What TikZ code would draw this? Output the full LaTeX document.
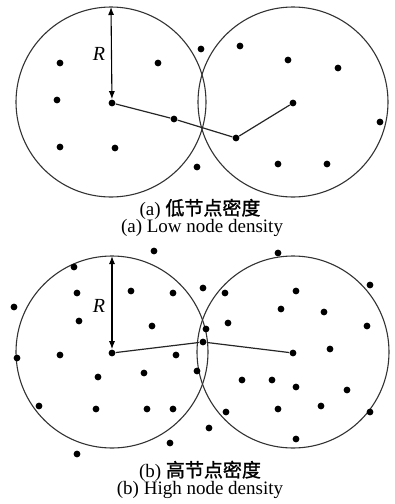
\documentclass[tikz,border=0pt]{standalone}
\usepackage{fontspec}
\setmainfont{Liberation Serif}
\newfontfamily\cjk{Noto Sans CJK SC}[FakeBold=1.2]
\usetikzlibrary{arrows.meta}

\tikzset{
  sensor/.style={circle, fill=black, inner sep=0pt, minimum size=3.4pt},
  rangecircle/.style={draw=black!80, line width=0.55pt},
  link/.style={draw=black!85, line width=0.6pt},
  radius arrow/.style={line width=0.55pt, {Latex[length=4pt,width=3pt]}-{Latex[length=4pt,width=3pt]}},
  caption/.style={anchor=base, inner sep=0pt, font=\fontsize{9.5}{11}\selectfont}
}

\begin{document}
\begin{tikzpicture}[x=0.5pt, y=-0.5pt]
  \useasboundingbox (0,0) rectangle (395,504);

  % (a) low node density
  \draw[rangecircle] (111,102) circle[radius=95];
  \draw[rangecircle] (293,102) circle[radius=95];
  \coordinate (topA) at (111,7);
  \node[sensor] (cA) at (112,103) {};
  \node[sensor] (hopA1) at (174,119) {};
  \node[sensor] (hopA2) at (236,138) {};
  \node[sensor] (cB) at (293,103) {};
  \node[sensor] (a1) at (60,63) {};
  \node[sensor] (a2) at (158,63) {};
  \node[sensor] (a3) at (57,100) {};
  \node[sensor] (a4) at (60,147) {};
  \node[sensor] (a5) at (115,148) {};
  \node[sensor] (a6) at (197,167) {};
  \node[sensor] (a7) at (201,49) {};
  \node[sensor] (a8) at (240,46) {};
  \node[sensor] (a9) at (288,60) {};
  \node[sensor] (a10) at (338,68) {};
  \node[sensor] (a11) at (380,122) {};
  \node[sensor] (a12) at (278,164) {};
  \node[sensor] (a13) at (327,164) {};
  \draw[radius arrow] (topA) -- (cA);
  \node[font=\fontsize{10}{11}\selectfont\itshape] (RA) at (99,54) {R};
  \draw[link] (cA) -- (hopA1);
  \draw[link] (hopA1) -- (hopA2);
  \draw[link] (hopA2) -- (cB);
  \node[caption] (capA1) at (200,215) {(a) {\cjk 低节点密度}};
  \node[caption] (capA2) at (202,232) {(a) Low node density};

  % (b) high node density
  \draw[rangecircle] (112,352) circle[radius=96];
  \draw[rangecircle] (293,352) circle[radius=96];
  \coordinate (topC) at (112,256);
  \node[sensor] (cC) at (112,353) {};
  \node[sensor] (hopC) at (203,342) {};
  \node[sensor] (cD) at (293,353) {};
  \node[sensor] (b1) at (154,251) {};
  \node[sensor] (b2) at (74,267) {};
  \node[sensor] (b3) at (14,307) {};
  \node[sensor] (b4) at (77,293) {};
  \node[sensor] (b5) at (131,291) {};
  \node[sensor] (b6) at (173,293) {};
  \node[sensor] (b7) at (79,321) {};
  \node[sensor] (b8) at (152,326) {};
  \node[sensor] (b9) at (17,358) {};
  \node[sensor] (b10) at (60,355) {};
  \node[sensor] (b11) at (176,355) {};
  \node[sensor] (b12) at (197,371) {};
  \node[sensor] (b13) at (98,377) {};
  \node[sensor] (b14) at (144,373) {};
  \node[sensor] (b15) at (39,406) {};
  \node[sensor] (b16) at (96,409) {};
  \node[sensor] (b17) at (147,409) {};
  \node[sensor] (b18) at (173,409) {};
  \node[sensor] (b19) at (170,443) {};
  \node[sensor] (b20) at (77,454) {};
  \node[sensor] (b21) at (278,253) {};
  \node[sensor] (b22) at (203,288) {};
  \node[sensor] (b23) at (225,293) {};
  \node[sensor] (b24) at (296,291) {};
  \node[sensor] (b25) at (370,285) {};
  \node[sensor] (b26) at (281,309) {};
  \node[sensor] (b27) at (324,312) {};
  \node[sensor] (b28) at (367,326) {};
  \node[sensor] (b29) at (228,323) {};
  \node[sensor] (b30) at (206,329) {};
  \node[sensor] (b31) at (330,349) {};
  \node[sensor] (b32) at (242,380) {};
  \node[sensor] (b33) at (272,380) {};
  \node[sensor] (b34) at (296,387) {};
  \node[sensor] (b35) at (347,390) {};
  \node[sensor] (b36) at (226,412) {};
  \node[sensor] (b37) at (278,409) {};
  \node[sensor] (b38) at (321,406) {};
  \node[sensor] (b39) at (370,412) {};
  \node[sensor] (b40) at (209,428) {};
  \node[sensor] (b41) at (296,439) {};
  \draw[radius arrow] (topC) -- (cC);
  \node[font=\fontsize{10}{11}\selectfont\itshape] (RC) at (99,306) {R};
  \draw[link] (cC) -- (hopC);
  \draw[link] (hopC) -- (cD);
  \node[caption] (capB1) at (200,477) {(b) {\cjk 高节点密度}};
  \node[caption] (capB2) at (200,494) {(b) High node density};
\end{tikzpicture}
\end{document}
